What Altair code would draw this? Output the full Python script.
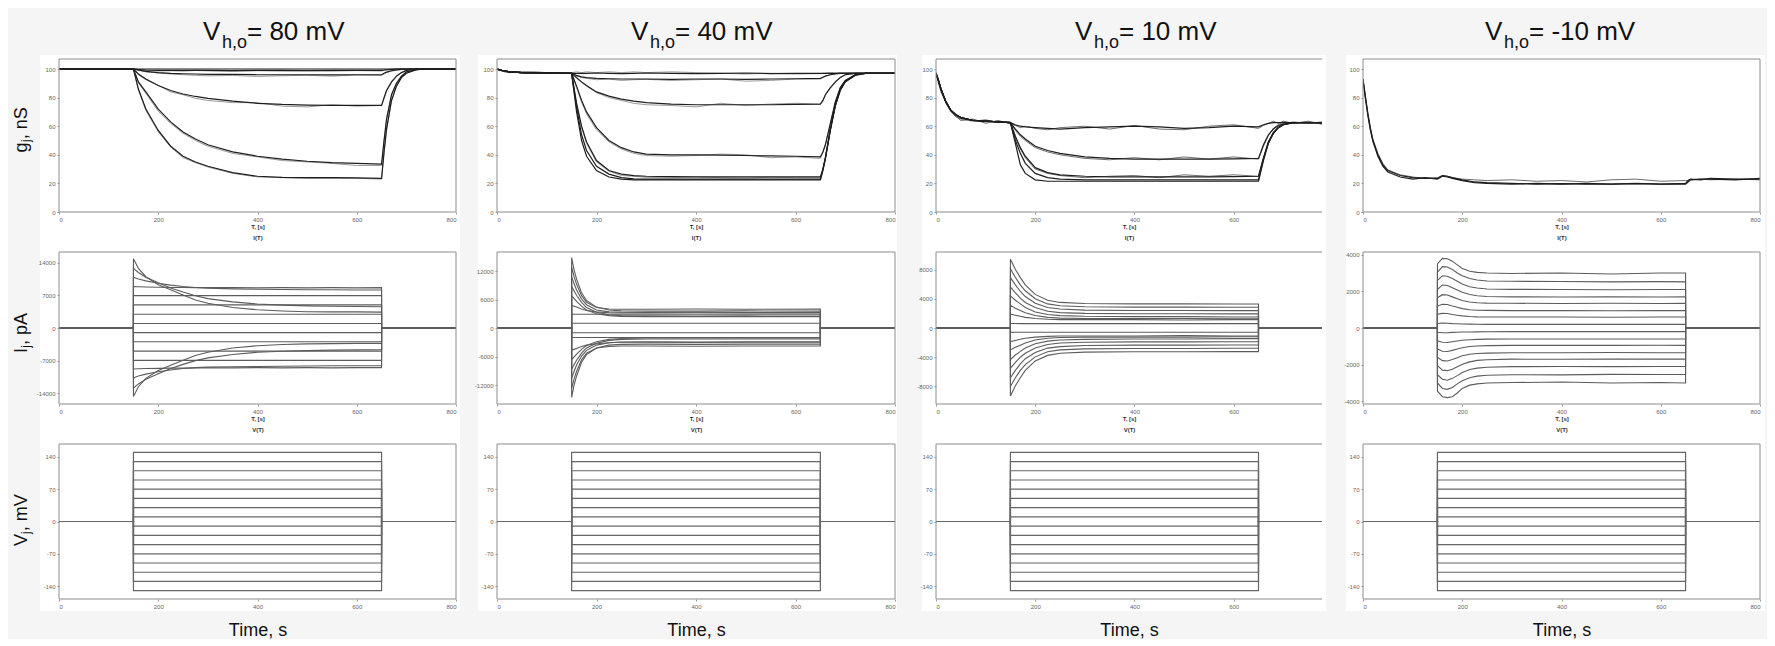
import altair as alt
import pandas as pd

# ======================= DATA =======================
COL_TITLES = ["= 80 mV", "= 40 mV", "= 10 mV", "= -10 mV"]
X_TICKS = [0, 200, 400, 600, 800]
X_TICKS_C3 = [0, 200, 400, 600]
G_TICKS = [0, 20, 40, 60, 80, 100]
V_TICKS = [-140, -70, 0, 70, 140]
I80_TICKS = [-14000, -7000, 0, 7000, 14000]
I40_TICKS = [-12000, -6000, 0, 6000, 12000]
I10_TICKS = [-8000, -4000, 0, 4000, 8000]
IM10_TICKS = [-4000, -2000, 0, 2000, 4000]

# ---- Vj protocol (same in all columns) ----
STEP_T = [0, 150, 150, 650, 650, 800]
VJ_LEVELS = [150, 130, 110, 90, 70, 50, 30, 10, -10, -30, -50, -70, -90, -110, -130, -150]

# ---- gj, Vh,o = 80 mV ----
G80_FLAT_T = [0, 800]
G80_FLAT = [100, 100]
G80_T = [0, 150, 160, 175, 200, 225, 250, 275, 300, 350, 400, 450, 500, 550, 600, 650,
         655, 660, 670, 680, 690, 700, 720, 740, 800]
G80_2 = [100, 100, 99.6, 99.3, 99.1, 99, 99, 99, 99, 98.9, 99, 99, 98.9, 99, 99, 99, 99.3, 99.5, 99.8, 100, 100, 100, 100, 100, 100]
G80_3 = [100, 100, 99.3, 98.4, 97.5, 97, 96.7, 96.5, 96.3, 96.2, 96, 96, 96, 95.9, 96, 96, 97, 97.8, 98.8, 99.4, 99.8, 100, 100, 100, 100]
G80_4 = [100, 100, 96.5, 93, 88.5, 85, 82.5, 80.8, 79.5, 77.5, 76, 75.2, 74.8, 74.5, 74.5, 74.5, 80, 85, 91, 95, 97.5, 99, 100, 100, 100]
G80_5 = [100, 100, 91, 84, 72, 63, 56, 51, 47, 42, 39, 37, 35.5, 34.5, 34, 33.5, 50, 65, 82, 90, 95, 98, 99.5, 100, 100]
G80_6 = [100, 100, 86, 72, 57, 46, 39, 35, 32, 27.5, 25, 24.2, 24, 24, 23.8, 23.5, 42, 58, 78, 88, 94, 97, 99.5, 100, 100]
G80_2E = [100, 100, 99.4, 99, 98.6, 98.8, 98.5, 99, 98.7, 98.4, 98.8, 98.5, 98.8, 98.5, 98.9, 98.6, 99, 99.3, 99.6, 99.9, 100, 100, 100, 100, 100]
G80_3E = [100, 100, 99, 98, 97.2, 96.5, 96, 95.6, 95.2, 95.5, 94.8, 95.3, 95.6, 95, 95.8, 95.5, 96.5, 97.5, 98.5, 99.2, 99.7, 100, 100, 100, 100]
G80_4E = [100, 100, 96, 92.5, 88.5, 84, 82, 79.5, 78, 76.5, 76.5, 74, 73.5, 75, 74, 74.5, 79, 84.5, 90.5, 95, 97.5, 99, 100, 100, 100]
G80_5E = [100, 100, 90.5, 83, 70.5, 62, 55, 50, 46, 41, 38.5, 36, 35, 34, 32.5, 32.5, 49, 64, 81.5, 90, 95, 98, 99.5, 100, 100]
G80_6E = [100, 100, 85.5, 71, 56, 45.5, 38, 34.5, 31.5, 27, 24.5, 24, 23.5, 23.5, 23.5, 23, 41, 57, 77.5, 88, 94, 97, 99.5, 100, 100]

# ---- gj, Vh,o = 40 mV ----
G40_T = [0, 10, 25, 50, 100, 150, 160, 170, 180, 200, 225, 250, 275, 300, 350, 400, 450, 500,
         550, 600, 650, 655, 660, 670, 680, 690, 700, 720, 740, 800]
G40_1 = [100, 99, 98, 97.5, 97.2, 97, 97, 97, 97, 97.2, 97, 96.8, 97, 97.2, 97, 96.8, 97, 97.2, 96.8, 97, 97, 97, 97, 97, 97, 97, 97, 97, 97, 97]
G40_2 = [100, 99, 98, 97.5, 97.2, 97, 95.5, 94.5, 94, 93.5, 93.2, 93, 93, 93, 92.8, 93, 93, 92.8, 93, 93.2, 93.5, 94.2, 95, 96, 96.6, 97, 97, 97, 97, 97]
G40_3 = [100, 99, 98, 97.5, 97.2, 97, 94, 91, 88.5, 84, 81, 79, 77.5, 76.5, 75.5, 75, 75, 75, 75, 75.2, 75.5, 78, 82, 87, 91, 94, 96, 97, 97, 97]
G40_4 = [100, 99, 98, 97.5, 97.2, 97, 88, 78, 70, 59, 50, 45, 42, 40.5, 40, 40, 39.8, 39.5, 39.2, 39, 38.5, 42, 47, 62, 77, 87, 92, 96, 97, 97]
G40_5 = [100, 99, 98, 97.5, 97.2, 97, 76, 60, 49, 36, 29, 26.5, 25.5, 25, 24.8, 24.6, 24.5, 24.5, 24.5, 24.5, 24.5, 30, 38, 58, 75, 86, 91.5, 96, 97, 97]
G40_6 = [100, 99, 98, 97.5, 97.2, 97, 70, 50, 39, 29, 24.5, 23, 22.5, 22.5, 22.5, 22.5, 22.5, 22.5, 22.5, 22.5, 22.5, 29, 37, 57, 74, 85, 91, 95.5, 97, 97]
G40_7 = [100, 99, 98, 97.5, 97.2, 97, 73, 54, 43, 32, 26.5, 24, 23.2, 23, 23, 23, 23, 23, 23, 23, 23, 29.5, 37.5, 57.5, 74.5, 85.5, 91.2, 95.8, 97, 97]
G40_1E = [100, 98.5, 97.5, 98, 97.5, 97.5, 98, 97.5, 98, 97.5, 98, 97.5, 98, 97.5, 98, 97.5, 97, 96.5, 97, 96.5, 96.8, 97, 97.2, 97.5, 97.3, 97.5, 97.2, 97.5, 97.3, 97.5]
G40_2E = [100, 98.5, 97.5, 98, 97.5, 97.5, 95, 94, 93.5, 92.5, 93, 92, 92.5, 92.8, 92, 92.5, 93, 91.5, 92, 93, 93, 94, 95, 96, 96.8, 97, 97.2, 97.5, 97.3, 97.5]
G40_3E = [100, 98.5, 97.5, 98, 97.5, 97.5, 93.5, 90.5, 88, 83.5, 80, 78, 76, 75, 74.5, 73.5, 76, 74.5, 75.5, 76, 75.5, 77.5, 81.5, 86.5, 90.5, 94, 96, 97, 97.3, 97.5]
G40_4E = [100, 98.5, 97.5, 98, 97.5, 97.5, 87, 77, 68.5, 57.5, 49, 44, 41, 39.5, 39, 39.5, 40.5, 40, 38, 38.5, 37.5, 41.5, 46.5, 61.5, 76.5, 87, 92, 96, 97.3, 97.5]
G40_5E = [100, 98.5, 97.5, 98, 97.5, 97.5, 75, 59, 48, 35, 28.5, 25.5, 25, 24.2, 24, 24.5, 24, 23.8, 24.3, 24, 24, 29.5, 37.5, 57.5, 75, 86, 91.5, 96, 97.3, 97.5]

# ---- gj, Vh,o = 10 mV ----
G10_T = [0, 5, 10, 20, 30, 40, 50, 75, 100, 125, 150, 160, 170, 180, 200, 225, 250, 300, 350,
         400, 450, 500, 550, 600, 650, 660, 670, 680, 690, 700, 720, 750, 778]
G10_1 = [97, 92, 86, 77, 71, 68, 66, 64, 63.5, 63, 62.5, 61, 60, 59.5, 59, 58.5, 58, 59, 59.5, 60, 59.5, 58.5, 59, 60, 59.5, 61, 62, 62.5, 62.5, 62.5, 62.5, 62.5, 62.5]
G10_2 = [97, 92, 86, 77, 71, 68, 66, 64, 63.5, 63, 62.5, 58, 54, 51, 46, 43, 41, 38.5, 37.5, 37, 37, 37, 37, 37.2, 37.5, 47, 54, 58, 60.5, 61.5, 62.5, 62.5, 62.5]
G10_3 = [97, 92, 86, 77, 71, 68, 66, 64, 63.5, 63, 62.5, 53, 45, 39, 31, 27.5, 26, 25, 24.5, 24.5, 24.5, 24.5, 24.5, 24.8, 25, 38, 49, 55.5, 59, 61, 62.5, 62.5, 62.5]
G10_4 = [97, 92, 86, 77, 71, 68, 66, 64, 63.5, 63, 62.5, 50, 41, 34, 27, 24, 23, 22.5, 22.5, 22.5, 22.5, 22.5, 22.5, 22.5, 22.5, 37, 48.5, 55, 59, 61, 62.5, 62.5, 62.5]
G10_5 = [97, 92, 86, 77, 71, 68, 66, 64, 63.5, 63, 62.5, 48, 33, 27, 22.5, 21.5, 21.5, 21.5, 21.5, 21.5, 21.5, 21.5, 21.5, 21.5, 21.5, 36, 48, 55, 59, 61, 62.5, 62.5, 62.5]
G10_1E = [97, 91, 85, 76, 70, 67, 64, 65, 62, 64, 62, 60.5, 59, 60, 58.5, 57.5, 59, 60, 58, 60.5, 58, 57.5, 60, 61, 58.5, 60.5, 62, 63.5, 62, 63.5, 62, 63, 61.5]
G10_2E = [98, 90, 84, 76.5, 70.5, 66.5, 65, 63.5, 64.5, 62.5, 63, 57, 53, 50, 45, 42, 40, 37.5, 36.5, 38, 36.5, 38.5, 37, 38.5, 37, 46, 53.5, 58.5, 61, 63, 62, 63.5, 61.5]
G10_3E = [96, 91.5, 85.5, 77.5, 71.5, 67.5, 65.5, 64.5, 63, 63.5, 62, 52, 44, 38, 30, 27, 25.5, 24, 25, 25.5, 24, 26, 25, 26, 25, 37.5, 49.5, 56, 59.5, 62, 63, 62, 63]

# ---- gj, Vh,o = -10 mV ----
GM10_T = [0, 5, 10, 15, 20, 30, 40, 50, 75, 100, 125, 150, 160, 170, 180, 200, 225, 250, 300,
          350, 400, 450, 500, 550, 600, 650, 655, 660, 680, 700, 750, 800]
GM10_1 = [93, 80, 68, 58, 50, 40, 33, 29, 25.5, 24, 23.5, 23.5, 25.5, 25, 24, 22.5, 21, 20.5, 20, 19.5, 19.8, 19.5, 19.5, 19.8, 19.5, 19.5, 21, 22.5, 23, 23, 22.5, 23.5]
GM10_2 = [93, 81, 69, 59, 51, 41, 34, 29.5, 26, 24.5, 23.5, 24, 25.5, 25, 24, 23, 22.5, 22, 22.5, 21.5, 22, 21, 22.5, 23, 21.5, 22, 22, 22.5, 23, 22.5, 23, 22.5]
GM10_3 = [92, 79, 67, 57, 49.5, 39, 32, 28, 24.5, 23, 24, 23, 25, 24.5, 23.5, 22, 20.5, 20, 19.5, 20, 19.5, 20, 19.5, 20, 19.5, 20, 22, 23, 22.5, 23.5, 23, 23]

# ---- Ij, Vh,o = 80 mV ----
I80_T = [150, 160, 175, 200, 225, 250, 275, 300, 350, 400, 450, 500, 550, 600, 650]
I80_FLAT = [6950, 4950, 2950, 980, -1000, -2950, -4950, -6950]
I80_POS = [
    [14850, 12800, 11000, 9300, 8200, 7100, 6000, 5300, 4400, 3900, 3650, 3500, 3450, 3450, 3400],
    [12800, 11900, 10900, 9700, 8600, 7700, 6900, 6300, 5600, 5150, 4900, 4750, 4650, 4600, 4550],
    [10900, 10500, 10100, 9600, 9200, 8900, 8700, 8550, 8400, 8300, 8250, 8200, 8200, 8150, 8150],
    [8900, 8850, 8800, 8750, 8700, 8700, 8650, 8650, 8650, 8600, 8650, 8600, 8650, 8600, 8650],
]
I80_NEG = [
    [-14700, -12600, -10800, -9100, -8000, -6900, -5900, -5200, -4300, -3800, -3550, -3400, -3350, -3300, -3300],
    [-12900, -12000, -11000, -9800, -8700, -7800, -7000, -6400, -5700, -5200, -5000, -4850, -4750, -4700, -4650],
    [-10700, -10300, -9900, -9400, -9000, -8700, -8500, -8400, -8300, -8250, -8200, -8150, -8100, -8100, -8100],
    [-8800, -8750, -8700, -8650, -8600, -8600, -8550, -8550, -8550, -8500, -8550, -8500, -8550, -8500, -8500],
]

# ---- Ij, Vh,o = 40 mV ----
I40_T = [150, 155, 160, 170, 180, 200, 225, 250, 300, 400, 500, 650]
I40_FLAT = [2900, 1000, -1000, -2000]
I40_POS = [
    [14800, 12200, 10300, 7400, 5800, 4400, 3800, 3600, 3550, 3550, 3600, 3550],
    [12800, 10800, 9200, 6800, 5400, 4300, 4000, 3950, 3950, 4000, 3950, 4000],
    [10800, 9300, 8000, 6100, 4900, 3800, 3400, 3300, 3250, 3300, 3250, 3250],
    [8800, 7800, 6900, 5400, 4300, 3300, 2800, 2600, 2550, 2500, 2550, 2500],
    [6800, 6200, 5600, 4600, 3800, 3000, 2600, 2450, 2400, 2400, 2400, 2400],
    [4800, 4600, 4400, 4000, 3700, 3400, 3200, 3150, 3150, 3200, 3150, 3200],
]
I40_NEG = [
    [-14600, -12000, -10100, -7200, -5600, -4200, -3600, -3450, -3400, -3450, -3400, -3400],
    [-12700, -10700, -9100, -6700, -5300, -4200, -3900, -3800, -3800, -3850, -3800, -3800],
    [-10600, -9100, -7800, -5900, -4700, -3600, -3100, -2950, -2900, -2950, -2900, -2900],
    [-8700, -7700, -6800, -5300, -4200, -3200, -2600, -2400, -2300, -2300, -2300, -2300],
    [-6700, -6100, -5500, -4500, -3700, -2900, -2400, -2200, -2100, -2100, -2100, -2100],
    [-4700, -4500, -4300, -3900, -3600, -3300, -3100, -3000, -3000, -3050, -3000, -3000],
]

# ---- Ij, Vh,o = 10 mV ----
I10_T = [150, 160, 170, 180, 200, 225, 250, 300, 400, 500, 600, 650]
I10_POS = [
    [9400, 8000, 6900, 5900, 4600, 3800, 3500, 3350, 3300, 3300, 3280, 3280],
    [8100, 6900, 5900, 5100, 4000, 3300, 3050, 2900, 2850, 2850, 2830, 2830],
    [6900, 5900, 5000, 4300, 3400, 2800, 2600, 2450, 2400, 2400, 2380, 2380],
    [5600, 4800, 4100, 3500, 2800, 2300, 2100, 2000, 1950, 1950, 1930, 1930],
    [4400, 3800, 3300, 2800, 2200, 1850, 1700, 1600, 1550, 1550, 1500, 1500],
    [3100, 2700, 2400, 2100, 1700, 1450, 1350, 1300, 1300, 1300, 1250, 1250],
    [1900, 1750, 1600, 1450, 1300, 1200, 1150, 1150, 1150, 1100, 1150, 1150],
    [620, 610, 600, 600, 600, 600, 600, 600, 600, 600, 600, 600],
]
I10_NEG = [
    [-9300, -7900, -6800, -5800, -4500, -3750, -3450, -3300, -3250, -3250, -3230, -3230],
    [-8000, -6800, -5800, -5000, -3950, -3250, -3000, -2850, -2800, -2800, -2780, -2780],
    [-6800, -5800, -4900, -4200, -3350, -2750, -2550, -2400, -2350, -2350, -2330, -2330],
    [-5500, -4700, -4000, -3450, -2750, -2250, -2050, -1950, -1900, -1900, -1880, -1880],
    [-4300, -3700, -3200, -2750, -2150, -1800, -1650, -1550, -1500, -1500, -1450, -1450],
    [-3000, -2650, -2350, -2050, -1650, -1400, -1300, -1250, -1250, -1250, -1200, -1200],
    [-1850, -1700, -1550, -1400, -1250, -1150, -1100, -1100, -1100, -1050, -1100, -1100],
    [-600, -590, -580, -580, -580, -580, -580, -580, -580, -580, -580, -580],
]

# ---- Ij, Vh,o = -10 mV ----
IM10_T = [150, 160, 170, 180, 190, 200, 215, 230, 250, 300, 400, 500, 600, 650]
IM10_POS = [
    [3500, 3800, 3780, 3650, 3450, 3250, 3100, 3040, 3000, 2980, 3000, 2950, 3000, 3000],
    [3050, 3350, 3330, 3200, 3000, 2850, 2700, 2620, 2570, 2550, 2540, 2520, 2530, 2520],
    [2600, 2850, 2830, 2700, 2550, 2400, 2250, 2180, 2130, 2110, 2100, 2090, 2100, 2100],
    [2100, 2350, 2320, 2200, 2080, 1950, 1830, 1760, 1720, 1700, 1690, 1700, 1690, 1700],
    [1650, 1820, 1800, 1700, 1600, 1500, 1420, 1380, 1360, 1350, 1340, 1350, 1340, 1350],
    [1200, 1300, 1280, 1200, 1130, 1060, 1000, 970, 960, 950, 950, 940, 950, 950],
    [750, 800, 790, 740, 700, 660, 630, 610, 600, 600, 600, 590, 600, 600],
    [250, 270, 260, 240, 230, 220, 210, 205, 200, 200, 200, 200, 200, 200],
]
IM10_NEG = [
    [-3450, -3750, -3800, -3750, -3550, -3300, -3120, -3050, -3000, -2980, -2950, -3000, -2980, -3000],
    [-3000, -3300, -3350, -3250, -3050, -2880, -2720, -2630, -2580, -2550, -2560, -2530, -2540, -2530],
    [-2550, -2800, -2850, -2750, -2600, -2430, -2270, -2190, -2140, -2110, -2100, -2110, -2100, -2100],
    [-2050, -2300, -2330, -2250, -2120, -1980, -1850, -1770, -1730, -1700, -1710, -1700, -1700, -1700],
    [-1600, -1780, -1800, -1720, -1620, -1520, -1430, -1390, -1370, -1350, -1350, -1340, -1350, -1350],
    [-1150, -1270, -1280, -1220, -1150, -1080, -1010, -980, -960, -950, -950, -950, -940, -950],
    [-700, -780, -790, -750, -710, -670, -640, -620, -610, -600, -600, -600, -600, -600],
    [-230, -260, -260, -240, -230, -220, -215, -210, -205, -200, -200, -200, -200, -200],
]

# ======================= STYLE / LAYOUT =======================
FONT = "Liberation Sans"
BG = "#f5f5f5"
INK = "#1e1e1e"
GRAY = "#9a9a9a"
TRACE = "#5c5c5c"
FRAME = "#8c8c8c"
COL_W = [397, 398, 386, 397]
ROW_H = [153, 152, 155]
X_DOM = [[0, 800], [0, 800], [0, 778], [0, 800]]
COL_PAD = [(-19, 4), (-19, 2), (-14, 4), (-17, 5)]
ROW_PAD = [(-4, 40), (0, 40), (0, 12)]
TITLE_X = [144, 134, 139, 122]
SUB_ROW = ["I(T)", "V(T)"]

ONE = pd.DataFrame({"a": [1]})


def traces_df(traces):
    rows = []
    for k, (ts, vs) in enumerate(traces):
        if len(ts) != len(vs):
            raise ValueError(f"length mismatch in trace {k}: {len(ts)} vs {len(vs)}")
        for i, (t, v) in enumerate(zip(ts, vs)):
            rows.append({"t": t, "v": v, "tr": k, "i": i})
    return pd.DataFrame(rows)


def pulse(pt, vals):
    return [0, 150] + list(pt) + [650, 800], [0, 0] + list(vals) + [0, 0]


def step(level):
    return STEP_T, [0, 0, level, level, 0, 0]


def txt(s, x, y, size, angle=0, color="#111111"):
    kw = dict(text=s, fontSize=size, align="left", baseline="alphabetic", color=color, font=FONT)
    if angle:
        kw["angle"] = angle
    return alt.Chart(ONE).mark_text(**kw).encode(x=alt.value(x), y=alt.value(y))


def rule(x1, x2, y1, y2):
    return alt.Chart(ONE).mark_rule(color=FRAME, strokeWidth=1).encode(
        x=alt.value(x1), x2=alt.value(x2), y=alt.value(y1), y2=alt.value(y2))


def panel(row, col, dark, light, ydom, yticks, dark_w=1.0, light_w=1.0,
          dark_color=INK, light_color=GRAY):
    w, h = COL_W[col], ROW_H[row]
    xt = X_TICKS_C3 if col == 2 else X_TICKS
    if row < 2:
        xaxis = alt.Axis(values=xt, title=["T, [s]", SUB_ROW[row]], titleFontSize=6,
                         titleFontWeight="bold", titlePadding=1, titleLineHeight=11,
                         titleColor="#333333", labelExpr="datum.value + ''", zindex=2)
    else:
        xaxis = alt.Axis(values=xt, title="Time, s", titleFontSize=18, titleFontWeight="normal",
                         titlePadding=12, titleColor="#111111", labelExpr="datum.value + ''",
                         zindex=2)
    x = alt.X("t:Q", scale=alt.Scale(domain=X_DOM[col], nice=False, zero=False), axis=xaxis)
    y = alt.Y("v:Q", scale=alt.Scale(domain=ydom, nice=False, zero=False),
              axis=alt.Axis(values=yticks, title=None, labelExpr="datum.value + ''", zindex=2))
    layers = []
    if row == 0 and col == 0:
        # grey page backdrop that spans the whole figure
        layers.append(alt.Chart(ONE).mark_rect(color=BG).encode(
            x=alt.value(-51), x2=alt.value(1708), y=alt.value(-51), y2=alt.value(579)))
    lx, rx = COL_PAD[col]
    top, bot = ROW_PAD[row]
    layers.append(alt.Chart(ONE).mark_rect(color="white").encode(
        x=alt.value(lx), x2=alt.value(w + rx), y=alt.value(top), y2=alt.value(h + bot)))
    if light:
        layers.append(alt.Chart(traces_df(light)).mark_line(
            clip=True, color=light_color, strokeWidth=light_w).encode(
            x=x, y=y, detail="tr:N", order="i:Q"))
    layers.append(alt.Chart(traces_df(dark)).mark_line(
        clip=True, color=dark_color, strokeWidth=dark_w).encode(
        x=x, y=y, detail="tr:N", order="i:Q"))
    # frame
    layers += [rule(0, w, 0, 0), rule(0, w, h, h), rule(0, 0, 0, h)]
    if col != 2:
        layers.append(rule(w, w, 0, h))
    if row == 0:
        tx = TITLE_X[col]
        layers += [txt("V", tx, -19, 26), txt("h,o", tx + 19, -11, 18),
                   txt(COL_TITLES[col], tx + 44, -19, 26)]
    if col == 0:
        lab = [("g", ", nS", 93.5, 83, 80.3), ("I", ", pA", 101, 95.7, 93),
               ("V", ", mV", 102, 90, 87.3)][row]
        layers += [txt(lab[0], -32, lab[2], 18, 270), txt("j", -29, lab[3], 12, 270),
                   txt(lab[1], -32, lab[4], 18, 270)]
    return alt.layer(*layers).properties(width=w, height=h)


# ---------------- assemble traces ----------------
G_DOM = [0, 107]
g_panels = [
    ([(G80_FLAT_T, G80_FLAT), (G80_T, G80_2), (G80_T, G80_3), (G80_T, G80_4), (G80_T, G80_5), (G80_T, G80_6)],
     [(G80_T, G80_2E), (G80_T, G80_3E), (G80_T, G80_4E), (G80_T, G80_5E), (G80_T, G80_6E)]),
    ([(G40_T, G40_1), (G40_T, G40_2), (G40_T, G40_3), (G40_T, G40_4), (G40_T, G40_5), (G40_T, G40_6), (G40_T, G40_7)],
     [(G40_T, G40_1E), (G40_T, G40_2E), (G40_T, G40_3E), (G40_T, G40_4E), (G40_T, G40_5E)]),
    ([(G10_T, G10_1), (G10_T, G10_2), (G10_T, G10_3), (G10_T, G10_4), (G10_T, G10_5)],
     [(G10_T, G10_1E), (G10_T, G10_2E), (G10_T, G10_3E)]),
    ([(GM10_T, GM10_1), (GM10_T, GM10_3)],
     [(GM10_T, GM10_2)]),
]

i_sets = [
    (I80_T, I80_POS, I80_NEG, I80_FLAT, [-16300, 16300], I80_TICKS),
    (I40_T, I40_POS, I40_NEG, I40_FLAT, [-16000, 16000], I40_TICKS),
    (I10_T, I10_POS, I10_NEG, [], [-10400, 10400], I10_TICKS),
    (IM10_T, IM10_POS, IM10_NEG, [], [-4150, 4150], IM10_TICKS),
]

row0, row1, row2 = [], [], []
for c in range(4):
    dark, light = g_panels[c]
    row0.append(panel(0, c, dark, light, G_DOM, G_TICKS, dark_w=1.2, light_w=1.0,
                      light_color="#6e6e6e" if c >= 2 else GRAY))
    pt, pos, neg, flat, dom, ticks = i_sets[c]
    itr = [pulse(pt, v) for v in pos] + [pulse(pt, v) for v in neg] + [step(v) for v in flat]
    row1.append(panel(1, c, itr, None, dom, ticks, dark_w=1.1, dark_color=TRACE))
    vtr = [step(v) for v in VJ_LEVELS]
    row2.append(panel(2, c, vtr, None, [-168, 168], V_TICKS, dark_w=1.2, dark_color="#666666"))

chart = alt.concat(*(row0 + row1 + row2), columns=4,
                   spacing={"row": 40, "column": 41}, bounds="flush").properties(
    padding=0
).configure(font=FONT, background=BG).configure_view(
    stroke="transparent", strokeWidth=0, fill="white"
).configure_axis(
    labelFontSize=6, labelColor="#666666", labelFont=FONT, titleFont=FONT,
    tickSize=2, tickColor="#999999", domain=False, grid=False, labelPadding=2
)

chart.save("out.html", embed_options={"renderer": "svg", "actions": False})
